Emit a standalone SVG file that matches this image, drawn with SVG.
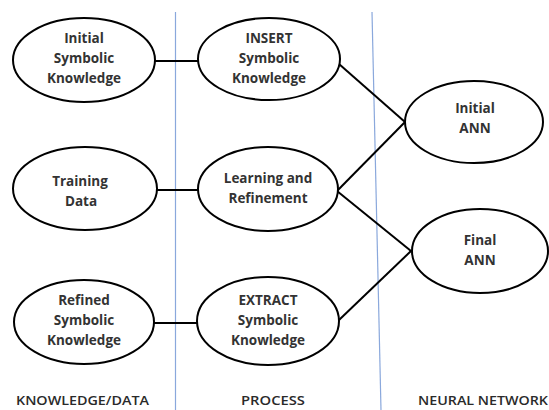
<svg xmlns="http://www.w3.org/2000/svg" width="549" height="410" viewBox="0 0 549 410">
<style>
.n ellipse{fill:#fff;stroke:#000;stroke-width:2}
.n text{font-family:"Open Sans","Liberation Sans",sans-serif;font-weight:bold;font-size:13.5px;fill:#333;text-anchor:middle}
.c line{stroke:#000;stroke-width:2}
.g{stroke:#8aa8dc;stroke-width:1.2}
.lab{font-family:"Open Sans","Liberation Sans",sans-serif;font-size:13px;font-weight:600;fill:#2a2a2a}
</style>
<rect width="549" height="410" fill="#fff"/>
<line class="g" x1="175.5" y1="12" x2="175.5" y2="410"/>
<line class="g" x1="372" y1="12" x2="381" y2="410"/>
<g class="c">
<line x1="155" y1="61" x2="198" y2="61"/>
<line x1="157" y1="190" x2="198" y2="190"/>
<line x1="154" y1="323" x2="198" y2="323"/>
<line x1="339" y1="64" x2="405" y2="122"/>
<line x1="337" y1="191" x2="405" y2="122"/>
<line x1="337" y1="191" x2="411" y2="251"/>
<line x1="339" y1="320" x2="411" y2="251"/>
</g>
<g class="n" id="n1"><ellipse cx="84" cy="60" rx="71" ry="42"/><text x="84" y="43">Initial</text><text x="84" y="63">Symbolic</text><text x="84" y="83">Knowledge</text></g>
<g class="n" id="n2"><ellipse cx="269" cy="59" rx="71" ry="41"/><text x="269" y="43">INSERT</text><text x="269" y="63">Symbolic</text><text x="269" y="83">Knowledge</text></g>
<g class="n" id="n3"><ellipse cx="85" cy="188.5" rx="72" ry="41.5"/><text x="80" y="186">Training</text><text x="81" y="206">Data</text></g>
<g class="n" id="n4"><ellipse cx="268" cy="189" rx="70" ry="42"/><text x="268" y="183">Learning and</text><text x="268" y="203">Refinement</text></g>
<g class="n" id="n5"><ellipse cx="84" cy="322" rx="70" ry="42"/><text x="84" y="305">Refined</text><text x="84" y="325">Symbolic</text><text x="84" y="345">Knowledge</text></g>
<g class="n" id="n6"><ellipse cx="268" cy="321" rx="71" ry="44"/><text x="268" y="305">EXTRACT</text><text x="268" y="325">Symbolic</text><text x="268" y="345">Knowledge</text></g>
<g class="n" id="n7"><ellipse cx="474" cy="122" rx="69" ry="41"/><text x="475" y="113">Initial</text><text x="475" y="133">ANN</text></g>
<g class="n" id="n8"><ellipse cx="480" cy="251" rx="68" ry="42"/><text x="480" y="245">Final</text><text x="480" y="265">ANN</text></g>
<text class="lab" x="16" y="405" textLength="133" lengthAdjust="spacingAndGlyphs">KNOWLEDGE/DATA</text>
<text class="lab" x="241" y="405" textLength="64" lengthAdjust="spacingAndGlyphs">PROCESS</text>
<text class="lab" x="418" y="405" textLength="130" lengthAdjust="spacingAndGlyphs">NEURAL NETWORK</text>
</svg>
